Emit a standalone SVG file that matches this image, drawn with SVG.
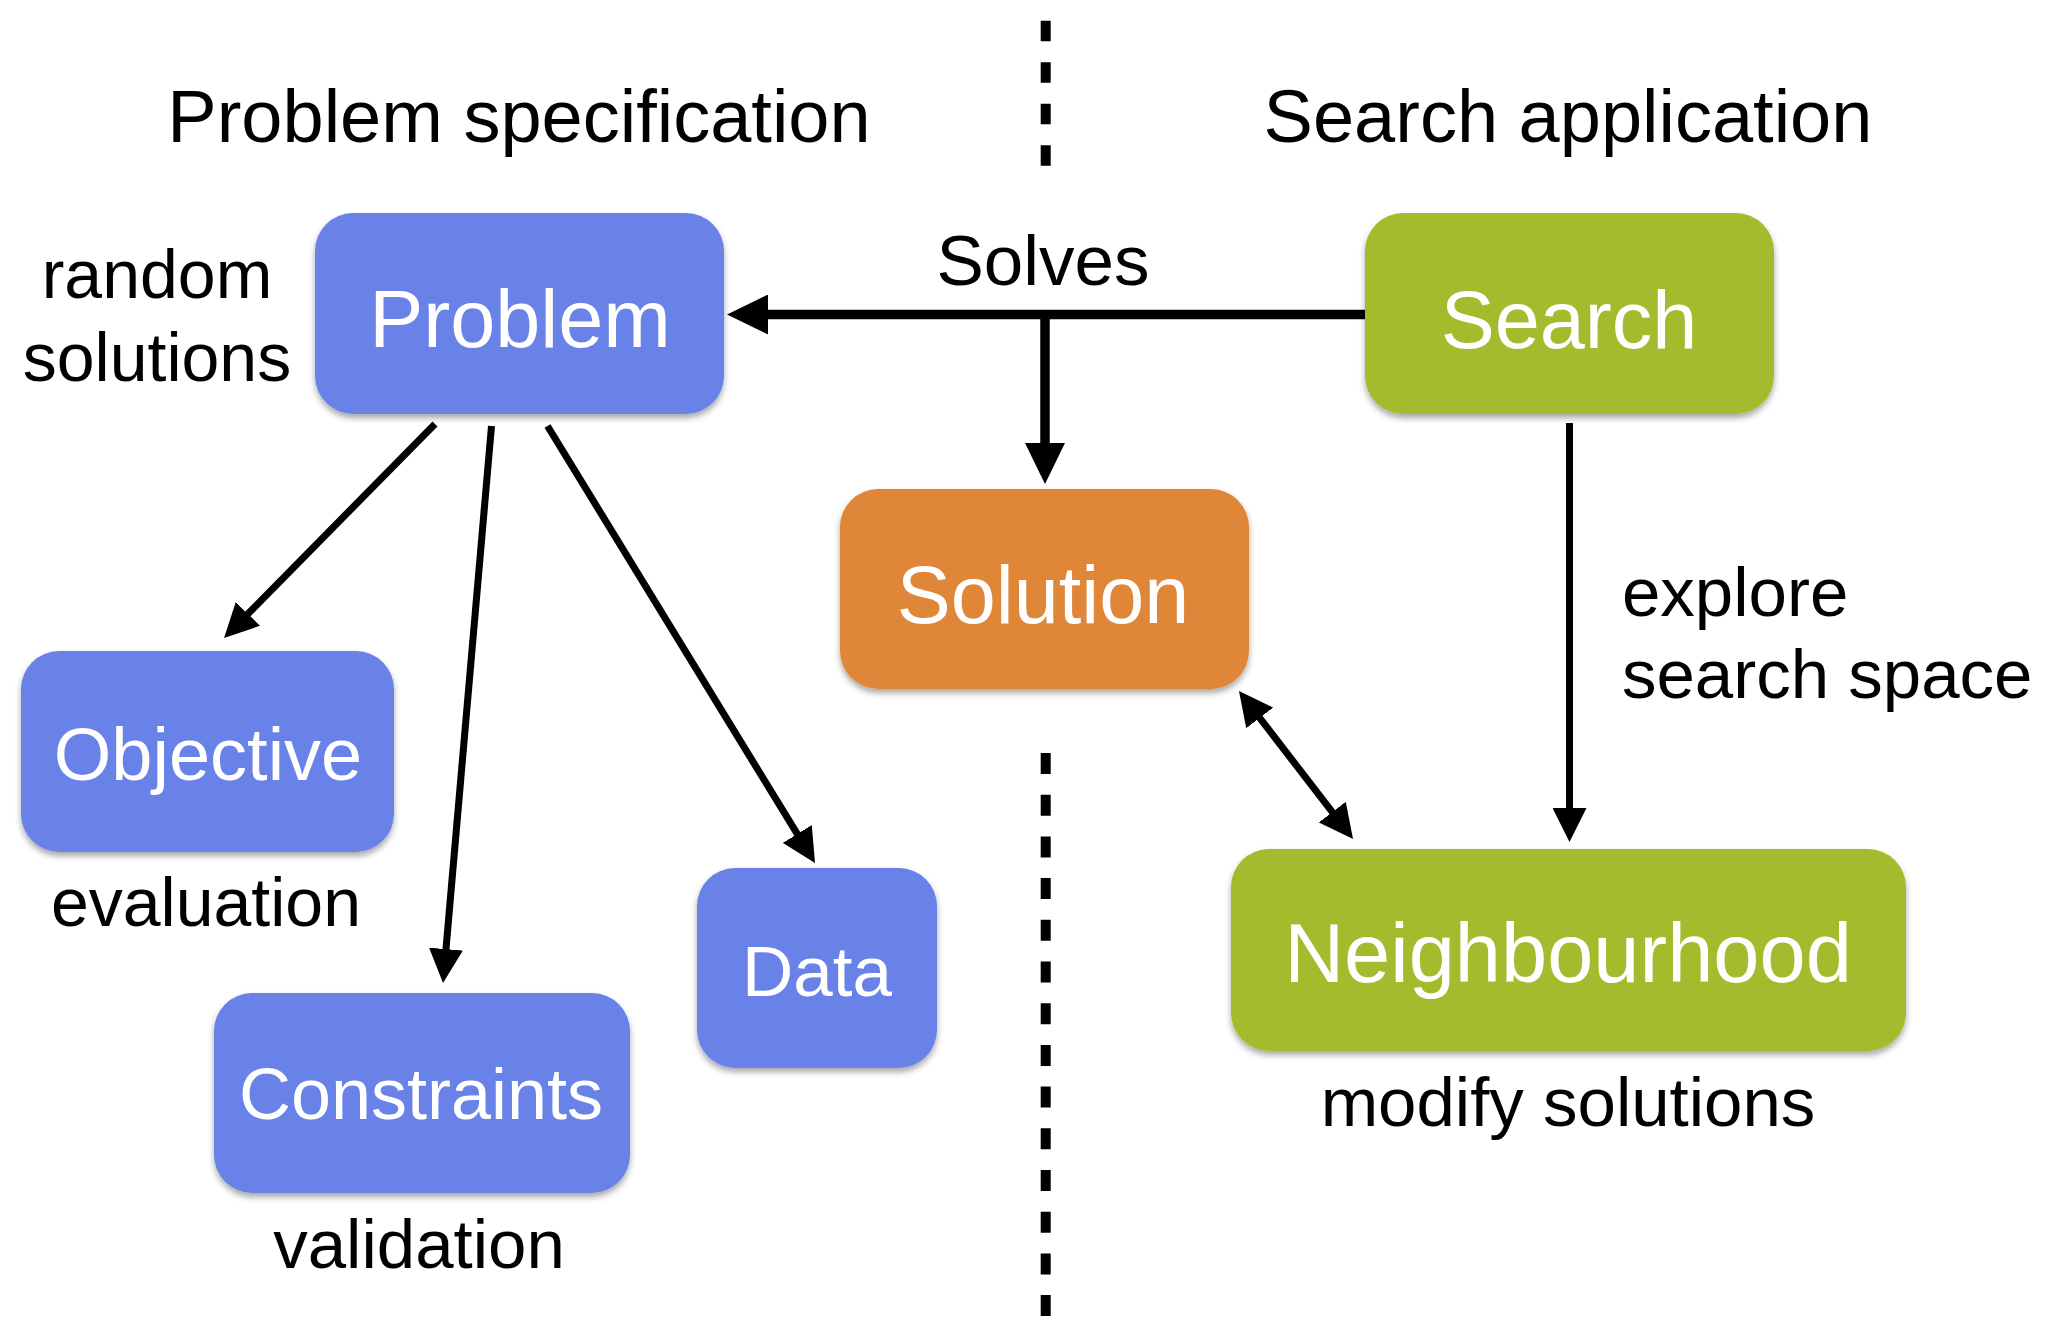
<svg xmlns="http://www.w3.org/2000/svg" width="2052" height="1339" viewBox="0 0 2052 1339">
  <defs>
    <filter id="shadow" x="-10%" y="-10%" width="120%" height="130%">
      <feDropShadow dx="0" dy="4" stdDeviation="3" flood-color="#000" flood-opacity="0.35"/>
    </filter>
    <marker id="headThick" markerUnits="userSpaceOnUse" markerWidth="41" markerHeight="40" refX="2" refY="20" orient="auto">
      <path d="M0,0 L41,20 L0,40 z" fill="#000"/>
    </marker>
    <marker id="headThin" markerUnits="userSpaceOnUse" markerWidth="34" markerHeight="34" refX="2" refY="17" orient="auto-start-reverse">
      <path d="M0,0 L34,17 L0,34 z" fill="#000"/>
    </marker>
    <style>
      .title { font-family: "Liberation Sans", Arial, sans-serif; font-size: 74px; fill: #000; text-anchor: middle; }
      .label { font-family: "Liberation Sans", Arial, sans-serif; font-size: 68px; fill: #000; }
      .mid { text-anchor: middle; }
      .ntext { font-family: "Liberation Sans", Arial, sans-serif; fill: #fff; text-anchor: middle; }
      .blue { fill: #6982E8; }
      .green { fill: #A5BB2E; }
      .orange { fill: #DF8638; }
      .box { filter: url(#shadow); }
      .thick { stroke: #000; stroke-width: 9.5; fill: none; }
      .thin { stroke: #000; stroke-width: 7; fill: none; }
      .divider { stroke: #000; stroke-width: 10; fill: none; }
    </style>
  </defs>
  <rect width="2052" height="1339" fill="#fff"/>

  <g id="titles">
    <text class="title" x="519" y="142">Problem specification</text>
    <text class="title" x="1568" y="142">Search application</text>
  </g>

  <g id="divider">
    <line class="divider" x1="1045.7" y1="20.7" x2="1045.7" y2="166" stroke-dasharray="20.5 21"/>
    <line class="divider" x1="1045.7" y1="753" x2="1045.7" y2="1317" stroke-dasharray="21 20.7"/>
  </g>

  <g id="connectors">
    <line class="thick" x1="1365" y1="314.5" x2="766" y2="314.5" marker-end="url(#headThick)"/>
    <line class="thick" x1="1045" y1="310" x2="1045" y2="445" marker-end="url(#headThick)"/>
    <line class="thin" x1="1569.5" y1="423" x2="1569.5" y2="810" marker-end="url(#headThin)"/>
    <line class="thin" x1="1258.5" y1="716.3" x2="1333.5" y2="813.7" marker-start="url(#headThin)" marker-end="url(#headThin)"/>
    <line class="thin" x1="435" y1="424" x2="246.5" y2="615.3" marker-end="url(#headThin)"/>
    <line class="thin" x1="491.5" y1="426" x2="445.8" y2="951.1" marker-end="url(#headThin)"/>
    <line class="thin" x1="547.5" y1="426" x2="798.3" y2="835.7" marker-end="url(#headThin)"/>
  </g>

  <g id="labels">
    <text class="label mid" x="157" y="298">random</text>
    <text class="label mid" x="157" y="381">solutions</text>
    <text class="label mid" x="1043" y="285" style="font-size:71px">Solves</text>
    <text class="label" x="1622" y="616" style="font-size:69px">explore</text>
    <text class="label" x="1622" y="698" style="font-size:69px">search space</text>
    <text class="label mid" x="206" y="926">evaluation</text>
    <text class="label mid" x="419" y="1268" style="font-size:69px">validation</text>
    <text class="label mid" x="1568" y="1126" style="font-size:69px">modify solutions</text>
  </g>

  <g id="node-problem">
    <rect class="box blue" x="315" y="213" width="409" height="201" rx="38"/>
    <text class="ntext" x="520" y="347" font-size="81">Problem</text>
  </g>
  <g id="node-search">
    <rect class="box green" x="1365" y="213" width="409" height="201" rx="38"/>
    <text class="ntext" x="1569" y="348" font-size="81">Search</text>
  </g>
  <g id="node-solution">
    <rect class="box orange" x="840" y="489" width="409" height="200" rx="38"/>
    <text class="ntext" x="1043" y="623" font-size="81">Solution</text>
  </g>
  <g id="node-neighbourhood">
    <rect class="box green" x="1231" y="849" width="675" height="202" rx="38"/>
    <text class="ntext" x="1568" y="982" font-size="83">Neighbourhood</text>
  </g>
  <g id="node-objective">
    <rect class="box blue" x="21" y="651" width="373" height="201" rx="38"/>
    <text class="ntext" x="208" y="780" font-size="74">Objective</text>
  </g>
  <g id="node-constraints">
    <rect class="box blue" x="214" y="993" width="416" height="200" rx="38"/>
    <text class="ntext" x="421" y="1119" font-size="72">Constraints</text>
  </g>
  <g id="node-data">
    <rect class="box blue" x="697" y="868" width="240" height="200" rx="38"/>
    <text class="ntext" x="817" y="996" font-size="71">Data</text>
  </g>
</svg>
